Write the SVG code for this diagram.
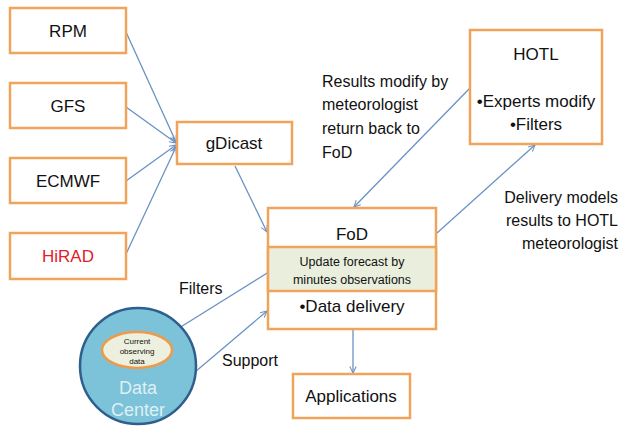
<svg xmlns="http://www.w3.org/2000/svg" width="622" height="432" viewBox="0 0 622 432">
<defs>
<marker id="ah" viewBox="0 0 10 10" refX="9" refY="5" markerWidth="8" markerHeight="8" orient="auto-start-reverse" markerUnits="userSpaceOnUse">
<path d="M1,1 L9,5 L1,9" fill="none" stroke="#6a92c6" stroke-width="1.3"/>
</marker>
<style>
.box{fill:#ffffff;stroke:#f0a35a;stroke-width:2.5}
.t{font-family:"Liberation Sans",Arial,sans-serif;fill:#111;text-anchor:middle}
.l{font-family:"Liberation Sans",Arial,sans-serif;fill:#111}
.c{fill:none;stroke:#6a92c6;stroke-width:1.3;marker-end:url(#ah)}
</style>
</defs>
<rect width="622" height="432" fill="#ffffff"/>
<g id="connectors">
<line class="c" x1="126" y1="32" x2="176" y2="142"/>
<line class="c" x1="126" y1="107" x2="176" y2="143"/>
<line class="c" x1="126" y1="181" x2="176" y2="145"/>
<line class="c" x1="126" y1="254" x2="176" y2="147"/>
<line class="c" x1="235" y1="166" x2="267" y2="232"/>
<line class="c" x1="470" y1="88" x2="354" y2="207"/>
<line class="c" x1="437" y1="233" x2="535" y2="145"/>
<line class="c" x1="163" y1="338" x2="288" y2="260"/>
<line class="c" x1="195" y1="372" x2="267" y2="311"/>
<line class="c" x1="353" y1="330" x2="353" y2="373"/>
</g>
<g id="RPM"><rect class="box" x="10" y="8" width="116" height="45"/><text class="t" x="68" y="37" font-size="17">RPM</text></g>
<g id="GFS"><rect class="box" x="10" y="83" width="116" height="45"/><text class="t" x="68" y="112" font-size="17">GFS</text></g>
<g id="ECMWF"><rect class="box" x="10" y="158" width="116" height="45"/><text class="t" x="68" y="187" font-size="17">ECMWF</text></g>
<g id="HiRAD"><rect class="box" x="10" y="233" width="116" height="46"/><text class="t" x="68" y="262" font-size="17" style="fill:#e0202a">HiRAD</text></g>
<g id="gDicast"><rect class="box" x="177" y="122" width="115" height="42"/><text class="t" x="234" y="149" font-size="17">gDicast</text></g>
<g id="FoD">
<rect class="box" x="268" y="208" width="168" height="121"/>
<rect x="268" y="247" width="168" height="44" fill="#e9efdc" stroke="#f0a35a" stroke-width="2.5"/>
<text class="t" x="352" y="240" font-size="17">FoD</text>
<text class="t" x="352" y="266" font-size="12.5">Update forecast by</text>
<text class="t" x="352" y="284" font-size="12.5">minutes observations</text>
<text class="t" x="352" y="312" font-size="17">•Data delivery</text>
</g>
<g id="HOTL">
<rect class="box" x="470" y="30" width="132" height="114"/>
<text class="t" x="536" y="60" font-size="17">HOTL</text>
<text class="t" x="536" y="107" font-size="17">•Experts modify</text>
<text class="t" x="536" y="130" font-size="17">•Filters</text>
</g>
<g id="Applications"><rect class="box" x="293" y="374" width="117" height="44"/><text class="t" x="351" y="402" font-size="17">Applications</text></g>
<g id="DataCenter">
<circle cx="138" cy="366" r="58" fill="#7cc2d8" stroke="#2f5f8c" stroke-width="2.5"/>
<ellipse cx="137" cy="350" rx="35" ry="18" fill="#eef0df" stroke="#ee9a48" stroke-width="2.5"/>
<text class="t" x="137" y="344" font-size="8">Current</text>
<text class="t" x="137" y="354" font-size="8">observing</text>
<text class="t" x="137" y="364" font-size="8">data</text>
<text class="t" x="138" y="394" font-size="18" style="fill:#dff0f6">Data</text>
<text class="t" x="138" y="416" font-size="18" style="fill:#dff0f6">Center</text>
</g>
<g id="labels">
<text class="l" x="322" y="87" font-size="16">Results modify by</text>
<text class="l" x="322" y="110" font-size="16">meteorologist</text>
<text class="l" x="322" y="134" font-size="16">return back to</text>
<text class="l" x="322" y="158" font-size="16">FoD</text>
<text class="l" x="618" y="203" font-size="16" text-anchor="end">Delivery models</text>
<text class="l" x="618" y="226" font-size="16" text-anchor="end">results to HOTL</text>
<text class="l" x="618" y="249" font-size="16" text-anchor="end">meteorologist</text>
<text class="l" x="179" y="294" font-size="16">Filters</text>
<text class="l" x="222" y="366" font-size="16">Support</text>
</g>
</svg>
